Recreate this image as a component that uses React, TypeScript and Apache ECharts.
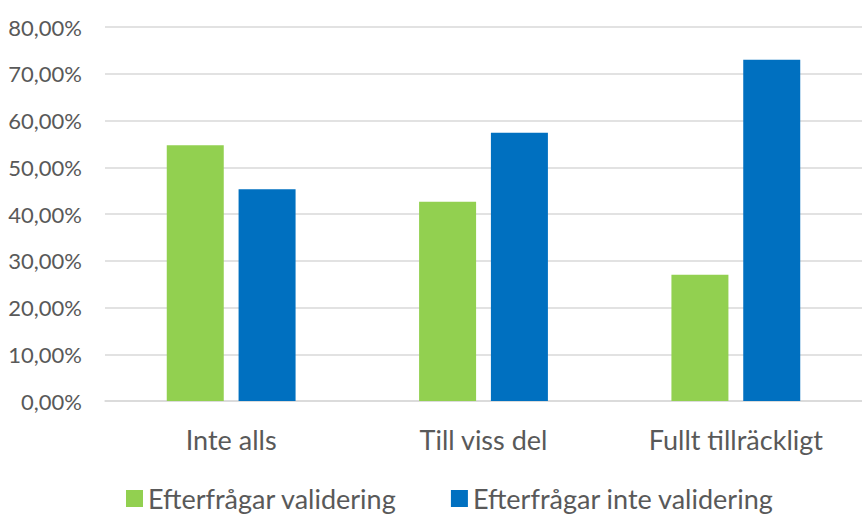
import React, { useEffect, useRef } from "react";
import * as echarts from "echarts";

const categories = ["Inte alls", "Till viss del", "Fullt tillräckligt"];
const seriesNames = ["Efterfrågar validering", "Efterfrågar inte validering"];
const validering = [54.7, 42.6, 27.0];
const inteValidering = [45.3, 57.4, 73.0];
const colors = ["#92D050", "#0070C0"];
const FONT = "Lato";

export default function App() {
  const ref = useRef<HTMLDivElement>(null);
  useEffect(() => {
    if (!ref.current) return;
    const chart = echarts.init(ref.current, null, { renderer: "svg" });
    chart.setOption({
      animation: false,
      textStyle: { fontFamily: FONT },
      grid: { left: 105, right: -9, top: 27, bottom: 113, containLabel: false },
      legend: {
        top: 480,
        left: 121,
        itemWidth: 17,
        itemHeight: 17,
        itemGap: 54,
        icon: "rect",
        textStyle: { fontSize: 27, color: "#595959", fontFamily: FONT },
        data: seriesNames,
      },
      xAxis: {
        type: "category",
        data: categories,
        axisLine: { lineStyle: { color: "#d9d9d9", width: 1.5 } },
        axisTick: { show: false },
        axisLabel: { fontSize: 27, color: "#595959", margin: 25, fontFamily: FONT },
      },
      yAxis: {
        type: "value",
        min: 0,
        max: 80,
        interval: 10,
        axisLine: { show: false },
        axisTick: { show: false },
        splitLine: { lineStyle: { color: "#d9d9d9", width: 1.5 } },
        axisLabel: {
          fontSize: 22,
          color: "#595959",
          margin: 23,
          fontFamily: FONT,
          formatter: (v: number) => v.toFixed(2).replace(".", ",") + "%",
        },
      },
      series: [
        {
          name: seriesNames[0],
          type: "bar",
          data: validering,
          barWidth: 57,
          barGap: "26%",
          itemStyle: { color: colors[0] },
        },
        {
          name: seriesNames[1],
          type: "bar",
          data: inteValidering,
          barWidth: 57,
          barGap: "26%",
          itemStyle: { color: colors[1] },
        },
      ],
    });
    return () => chart.dispose();
  }, []);
  return (
    <div
      ref={ref}
      style={{ position: "absolute", left: 0, top: 0, width: 862, height: 514, overflow: "hidden" }}
    />
  );
}
